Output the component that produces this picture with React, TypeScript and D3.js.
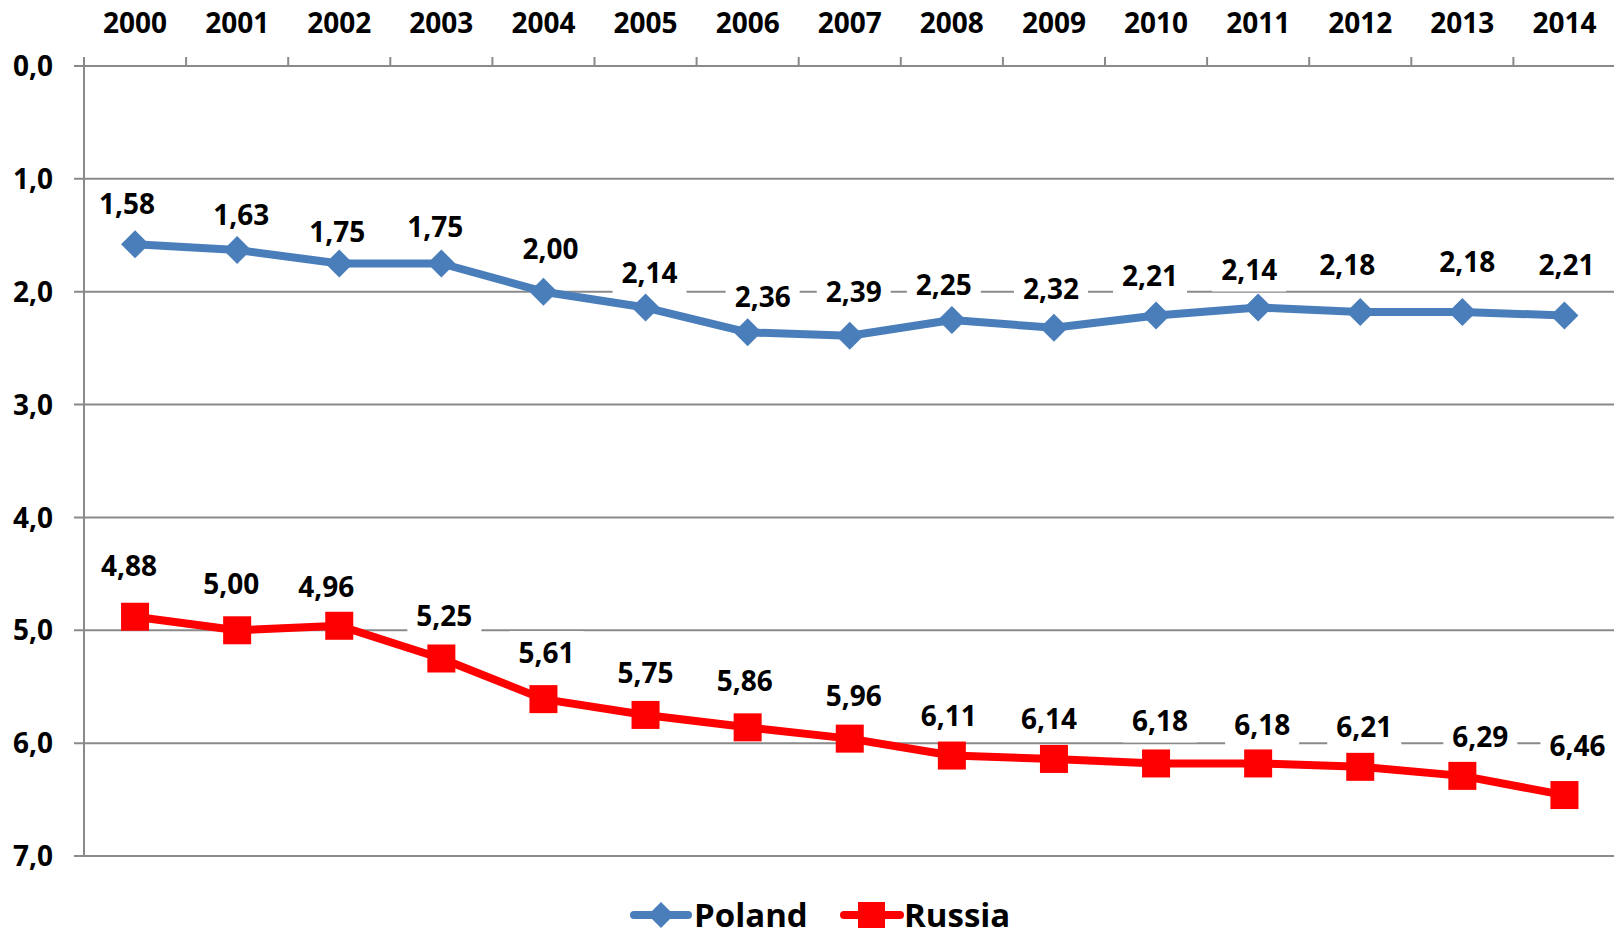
import React from "react";
import * as d3 from "d3";

const years = ["2000","2001","2002","2003","2004","2005","2006","2007","2008","2009","2010","2011","2012","2013","2014"];
const poland = [1.58,1.63,1.75,1.75,2.00,2.14,2.36,2.39,2.25,2.32,2.21,2.14,2.18,2.18,2.21];
const russia = [4.88,5.00,4.96,5.25,5.61,5.75,5.86,5.96,6.11,6.14,6.18,6.18,6.21,6.29,6.46];
const yTicks = [0,1,2,3,4,5,6,7];

// label offsets (layout only)
const polandDx = [-8,4,-2,-6,7,4,15,4,-8,-3,-6,-9,-13,5,2];
const polandDy = [-40,-35,-32,-37,-43,-35,-35,-44,-35,-39,-39,-38,-47,-50,-50];
const russiaDx = [-6,-6,-13,3,3,0,-3,4,-3,-5,4,4,4,18,13];
const russiaDy = [-51,-46,-39,-43,-46,-42,-46,-43,-40,-40,-43,-39,-40,-39,-49];

const W = 1614, H = 937;
const left = 84, right = 1615.5, top = 66, bottom = 856;
const FONT = "'Open Sans', sans-serif";
const BLUE = "#4A7EBB";
const RED = "#FF0000";
const GRID = "#8a8a8a";

const fmt = (v: number, d: number) => v.toFixed(d).replace(".", ",");

export default function App() {
  const x = d3.scaleBand<string>().domain(years).range([left, right]);
  const y = d3.scaleLinear().domain([0, 7]).range([top, bottom]);
  const cx = (yr: string) => (x(yr) as number) + x.bandwidth() / 2;
  const line = d3.line<number>().x((_, i) => cx(years[i])).y((v) => y(v));
  const boundaries = d3.range(years.length + 1).map((i) => left + i * x.bandwidth());

  const labels = (vals: number[], dx: number[], dy: number[], key: string) =>
    vals.map((v, i) => {
      const lx = cx(years[i]) + dx[i];
      const ly = y(v) + dy[i];
      return (
        <g key={key + i}>
          <rect x={lx - 37} y={ly - 22} width={74} height={44} fill="#fff" />
          <text x={lx} y={ly} dy="0.36em" textAnchor="middle" fontSize={28} fontWeight={700} fill="#000">
            {fmt(v, 2)}
          </text>
        </g>
      );
    });

  const legY = 915;

  return (
    <svg width={W} height={H} style={{ position: "absolute", left: 0, top: 0, background: "#fff" }} fontFamily={FONT}>
      <rect width={W} height={H} fill="#fff" />
      {/* gridlines */}
      {yTicks.map((t) => (
        <line key={"g" + t} x1={left - 10} x2={right} y1={y(t)} y2={y(t)} stroke={GRID} strokeWidth={2} />
      ))}
      {/* y axis */}
      <line x1={left} x2={left} y1={top} y2={bottom} stroke={GRID} strokeWidth={2} />
      {/* top ticks */}
      {boundaries.map((b, i) => (
        <line key={"t" + i} x1={b} x2={b} y1={top} y2={top - 9} stroke={GRID} strokeWidth={2} />
      ))}
      {/* y labels */}
      {yTicks.map((t) => (
        <text key={"yl" + t} x={53} y={y(t)} dy="0.36em" textAnchor="end" fontSize={28} fontWeight={700} fill="#000">
          {fmt(t, 1)}
        </text>
      ))}
      {/* x labels */}
      {years.map((yr) => (
        <text key={"xl" + yr} x={cx(yr)} y={33} textAnchor="middle" fontSize={28} fontWeight={700} fill="#000">
          {yr}
        </text>
      ))}
      {/* data labels (white boxes) */}
      {labels(poland, polandDx, polandDy, "pl")}
      {labels(russia, russiaDx, russiaDy, "ru")}
      {/* lines */}
      <path d={line(poland) || ""} fill="none" stroke={BLUE} strokeWidth={8} strokeLinejoin="round" />
      <path d={line(russia) || ""} fill="none" stroke={RED} strokeWidth={8} strokeLinejoin="round" />
      {/* markers */}
      {poland.map((v, i) => {
        const px = cx(years[i]), py = y(v), r = 14;
        return <path key={"pm" + i} d={`M${px},${py - r}L${px + r},${py}L${px},${py + r}L${px - r},${py}Z`} fill={BLUE} />;
      })}
      {russia.map((v, i) => (
        <rect key={"rm" + i} x={cx(years[i]) - 14} y={y(v) - 14} width={28} height={28} fill={RED} />
      ))}
      {/* legend */}
      <g>
        <line x1={634} x2={688} y1={legY} y2={legY} stroke={BLUE} strokeWidth={8} strokeLinecap="round" />
        <path d={`M661,${legY - 13}L674,${legY}L661,${legY + 13}L648,${legY}Z`} fill={BLUE} />
        <text x={694} y={legY} dy="0.36em" fontSize={33} fontWeight={700} fill="#000">Poland</text>
        <line x1={844} x2={900} y1={legY} y2={legY} stroke={RED} strokeWidth={8} strokeLinecap="round" />
        <rect x={858} y={legY - 13} width={27} height={26} fill={RED} />
        <text x={904} y={legY} dy="0.36em" fontSize={33} fontWeight={700} fill="#000">Russia</text>
      </g>
    </svg>
  );
}
